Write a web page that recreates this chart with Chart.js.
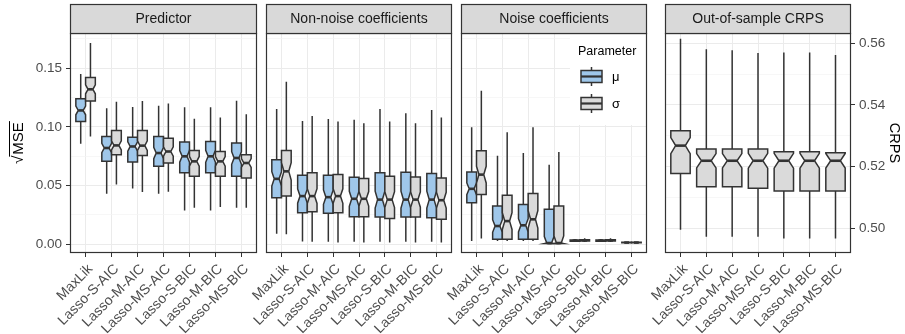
<!DOCTYPE html>
<html>
<head>
<meta charset="utf-8">
<title>Boxplots by method</title>
<script src="https://cdn.jsdelivr.net/npm/chart.js@4.4.1/dist/chart.umd.min.js"></script>
<style>
    html, body { margin: 0; padding: 0; background: #ffffff; }
    #figure { position: relative; width: 905px; height: 334px; overflow: hidden; }
    #figure canvas { position: absolute; top: 0; }
</style>
</head>
<body>
<div id="figure">
    <canvas id="panel-predictor" width="262" height="334" style="left:0px"></canvas>
    <canvas id="panel-nonnoise" width="230" height="334" style="left:226px"></canvas>
    <canvas id="panel-noise" width="230" height="334" style="left:421px"></canvas>
    <canvas id="panel-crps" width="280" height="334" style="left:625px"></canvas>
</div>
<script>
const methods = ["MaxLik", "Lasso-S-AIC", "Lasso-M-AIC", "Lasso-MS-AIC", "Lasso-S-BIC", "Lasso-M-BIC", "Lasso-MS-BIC"]

// one row per method: [lower whisker, q1, median, q3, upper whisker]
const predictorMu = [
    [0.0856, 0.1045, 0.114, 0.124, 0.145],
    [0.043, 0.0706, 0.082, 0.0918, 0.1158],
    [0.0475, 0.07, 0.0833, 0.0912, 0.117],
    [0.043, 0.0664, 0.0777, 0.0918, 0.118],
    [0.0288, 0.0608, 0.0749, 0.087, 0.1167],
    [0.0288, 0.0608, 0.0749, 0.0876, 0.1167],
    [0.031, 0.0579, 0.0735, 0.0862, 0.1223],
]
const predictorSigma = [
    [0.0918, 0.122, 0.132, 0.142, 0.1715],
    [0.0508, 0.0763, 0.0842, 0.0969, 0.1215],
    [0.0444, 0.0757, 0.084, 0.097, 0.122],
    [0.0446, 0.0692, 0.079, 0.0904, 0.12],
    [0.031, 0.0579, 0.0706, 0.0799, 0.107],
    [0.0316, 0.0579, 0.0706, 0.079, 0.108],
    [0.031, 0.0565, 0.0692, 0.0763, 0.1107],
]
const nonNoiseMu = [
    [0.009, 0.0396, 0.0557, 0.072, 0.1153],
    [0.0023, 0.0268, 0.041, 0.0587, 0.105],
    [0.002, 0.0263, 0.0401, 0.0587, 0.1068],
    [0.002, 0.0235, 0.0387, 0.057, 0.106],
    [0.002, 0.0231, 0.038, 0.0608, 0.1153],
    [0.002, 0.0231, 0.038, 0.0613, 0.1116],
    [0.002, 0.0226, 0.038, 0.0602, 0.1144],
]
const nonNoiseSigma = [
    [0.0085, 0.041, 0.0621, 0.0799, 0.1384],
    [0.002, 0.0277, 0.041, 0.0608, 0.1093],
    [0.0014, 0.0268, 0.041, 0.0593, 0.1045],
    [0.0014, 0.0235, 0.0387, 0.0559, 0.103],
    [0.0014, 0.022, 0.038, 0.0579, 0.1045],
    [0.0014, 0.0231, 0.038, 0.0573, 0.103],
    [0.0014, 0.0212, 0.0375, 0.0565, 0.108],
]
const noiseMu = [
    [0.0028, 0.0353, 0.0472, 0.0616, 0.0997],
    [0.0028, 0.0042, 0.0155, 0.0325, 0.0754],
    [0.0028, 0.0042, 0.0161, 0.0339, 0.0777],
    [0.0002, 0.0005, 0.001, 0.0297, 0.0678],
    [0.0018, 0.0026, 0.0031, 0.0036, 0.0045],
    [0.0018, 0.0026, 0.0031, 0.0036, 0.0045],
    [0.001, 0.0012, 0.0014, 0.0016, 0.0018],
]
const noiseSigma = [
    [0.0048, 0.0424, 0.0593, 0.0797, 0.1308],
    [0.0028, 0.0042, 0.0197, 0.0418, 0.0955],
    [0.0028, 0.0042, 0.0212, 0.0432, 0.0997],
    [0.0002, 0.0005, 0.001, 0.0325, 0.0786],
    [0.0018, 0.0027, 0.0032, 0.0038, 0.005],
    [0.0018, 0.0027, 0.0032, 0.0038, 0.005],
    [0.001, 0.0012, 0.0014, 0.0016, 0.0018],
]
const crps = [
    [0.4995, 0.5178, 0.5268, 0.5316, 0.5614],
    [0.4973, 0.5135, 0.5219, 0.5257, 0.558],
    [0.4973, 0.5135, 0.5219, 0.5257, 0.5577],
    [0.4973, 0.513, 0.5219, 0.5257, 0.5568],
    [0.4967, 0.5121, 0.5219, 0.5248, 0.557],
    [0.4967, 0.5121, 0.5219, 0.5248, 0.557],
    [0.4967, 0.5121, 0.5219, 0.5245, 0.5562],
]

const mseTicks = [0, 0.05, 0.1, 0.15]
const mseMinorTicks = [0.025, 0.075, 0.125, 0.175]
const crpsTicks = [0.5, 0.52, 0.54, 0.56]
const crpsMinorTicks = [0.51, 0.53, 0.55]

const fontFamily = "'Liberation Sans', Arial, Helvetica, sans-serif"
const ink = "#333333"
const muFill = "#9fc7ea"
const sigmaFill = "#dadada"
const notchFactor = 0.19 // 1.58 / sqrt(n), as a share of the IQR

Chart.defaults.font.family = fontFamily

function drawBox(ctx, xScale, yScale, center, halfWidth, stats, fill) {
    const [lo, q1, med, q3, hi] = stats
    const notch = notchFactor * (q3 - q1)
    const notchHi = Math.min(med + notch, q3)
    const notchLo = Math.max(med - notch, q1)
    const y = (v) => yScale.getPixelForValue(v)
    const x0 = xScale.getPixelForValue(center - halfWidth)
    const x1 = xScale.getPixelForValue(center + halfWidth)
    const xm = xScale.getPixelForValue(center)
    const inset = (x1 - x0) * 0.25

    ctx.strokeStyle = ink
    ctx.lineWidth = 1.5
    ctx.beginPath()
    ctx.moveTo(xm, y(hi))
    ctx.lineTo(xm, y(q3))
    ctx.moveTo(xm, y(q1))
    ctx.lineTo(xm, y(lo))
    ctx.stroke()

    ctx.beginPath()
    ctx.moveTo(x0, y(q3))
    ctx.lineTo(x1, y(q3))
    ctx.lineTo(x1, y(notchHi))
    ctx.lineTo(x1 - inset, y(med))
    ctx.lineTo(x1, y(notchLo))
    ctx.lineTo(x1, y(q1))
    ctx.lineTo(x0, y(q1))
    ctx.lineTo(x0, y(notchLo))
    ctx.lineTo(x0 + inset, y(med))
    ctx.lineTo(x0, y(notchHi))
    ctx.closePath()
    ctx.fillStyle = fill
    ctx.fill()
    ctx.stroke()

    ctx.lineWidth = 2.6
    ctx.beginPath()
    ctx.moveTo(x0 + inset, y(med))
    ctx.lineTo(x1 - inset, y(med))
    ctx.stroke()
}

function drawLegendKey(ctx, x0, x1, top, fill) {
    const xm = (x0 + x1) / 2
    ctx.strokeStyle = ink
    ctx.lineWidth = 1.5
    ctx.beginPath()
    ctx.moveTo(xm, top)
    ctx.lineTo(xm, top + 19)
    ctx.stroke()
    ctx.fillStyle = fill
    ctx.fillRect(x0, top + 3.5, x1 - x0, 12)
    ctx.strokeRect(x0, top + 3.5, x1 - x0, 12)
    ctx.lineWidth = 2.2
    ctx.beginPath()
    ctx.moveTo(x0, top + 9.5)
    ctx.lineTo(x1, top + 9.5)
    ctx.stroke()
}

const boxPanelPlugin = {
    id: "boxPanel",
    afterDraw(chart, args, opts) {
        const { ctx, chartArea } = chart
        const { left, right, top, bottom } = chartArea
        const xScale = chart.scales.x
        const yScale = chart.scales.y
        ctx.save()

        if (opts.legend) {
            ctx.fillStyle = "#ffffff"
            ctx.fillRect(right - 77, top + 1, 76, 91)
            ctx.fillStyle = "#000000"
            ctx.font = `12.5px ${fontFamily}`
            ctx.textAlign = "left"
            ctx.textBaseline = "middle"
            ctx.fillText("Parameter", right - 69, top + 19)
            drawLegendKey(ctx, right - 66, right - 45, top + 34, muFill)
            drawLegendKey(ctx, right - 66, right - 45, top + 61, sigmaFill)
            ctx.fillStyle = "#000000"
            ctx.font = `13px ${fontFamily}`
            ctx.fillText("μ", right - 35, top + 44)
            ctx.fillText("σ", right - 35, top + 71)
        }

        chart.data.datasets.forEach((dataset) => {
            dataset.stats.forEach((stats, i) => {
                drawBox(ctx, xScale, yScale, i + dataset.shift, dataset.halfWidth, stats, dataset.fill)
            })
        })

        ctx.strokeStyle = ink
        ctx.lineWidth = 1.2
        ctx.strokeRect(left + 0.5, top + 0.5, right - left - 1, bottom - top - 1)

        ctx.fillStyle = "#d9d9d9"
        ctx.fillRect(left + 0.5, 4.5, right - left - 1, top - 4)
        ctx.strokeRect(left + 0.5, 4.5, right - left - 1, top - 4)
        ctx.fillStyle = "#1a1a1a"
        ctx.font = `14px ${fontFamily}`
        ctx.textAlign = "center"
        ctx.textBaseline = "middle"
        ctx.fillText(opts.title, (left + right) / 2, 19)

        if (opts.yTitle) {
            // radical sign with a bar over MSE
            ctx.translate(17, (top + bottom) / 2)
            ctx.rotate(-Math.PI / 2)
            ctx.font = `15px ${fontFamily}`
            ctx.fillStyle = "#000000"
            ctx.textAlign = "left"
            ctx.textBaseline = "alphabetic"
            const rootWidth = ctx.measureText("√").width + 1
            const textWidth = ctx.measureText("MSE").width
            const start = -(rootWidth + textWidth) / 2
            ctx.fillText("√", start, 5.5)
            ctx.fillText("MSE", start + rootWidth, 5.5)
            ctx.strokeStyle = "#000000"
            ctx.lineWidth = 1
            ctx.beginPath()
            ctx.moveTo(start + rootWidth - 2, -7.5)
            ctx.lineTo(start + rootWidth + textWidth + 1, -7.5)
            ctx.stroke()
        }
        ctx.restore()
    },
}

function xAxis() {
    return {
        type: "linear",
        min: -0.6,
        max: methods.length - 0.4,
        afterBuildTicks(scale) {
            scale.ticks = methods.map((name, i) => ({ value: i }))
        },
        afterFit(scale) {
            scale.height = 81
            scale.paddingLeft = 0
            scale.paddingRight = 0
        },
        ticks: {
            autoSkip: false,
            minRotation: 45,
            maxRotation: 45,
            padding: 4,
            labelOffset: 5,
            color: "#4d4d4d",
            font: { size: 14 },
            callback: (value) => methods[value],
        },
        grid: { color: "#ebebeb", lineWidth: 1, tickColor: ink, tickLength: 4 },
        border: { display: false },
    }
}

function yAxis(major, minor, range, showLabels, position, width, title) {
    return {
        type: "linear",
        position: position,
        min: range[0],
        max: range[1],
        afterBuildTicks(scale) {
            scale.ticks = [...major, ...minor].sort((a, b) => a - b).map((v) => ({ value: v }))
        },
        afterFit(scale) {
            scale.width = width
            scale.paddingTop = 0
            scale.paddingBottom = 0
        },
        ticks: {
            display: showLabels,
            autoSkip: false,
            padding: 4,
            color: "#4d4d4d",
            font: { size: 13.5 },
            callback: (value) => (major.includes(value) ? value.toFixed(2) : ""),
        },
        grid: {
            drawTicks: showLabels,
            tickLength: 4,
            color: (ctx) => (major.includes(ctx.tick.value) ? "#ebebeb" : "#f3f3f3"),
            lineWidth: (ctx) => (major.includes(ctx.tick.value) ? 1 : 0.7),
            tickColor: (ctx) => (major.includes(ctx.tick.value) ? ink : "rgba(0,0,0,0)"),
        },
        border: { display: false },
        title: {
            display: Boolean(title),
            text: title || "",
            color: "#000000",
            font: { size: 14.5 },
            padding: { top: 2, bottom: 0 },
        },
    }
}

function pairDatasets(muStats, sigmaStats) {
    return [
        { label: "μ", stats: muStats, fill: muFill, shift: -0.1875, halfWidth: 0.1875, data: [] },
        { label: "σ", stats: sigmaStats, fill: sigmaFill, shift: 0.1875, halfWidth: 0.1875, data: [] },
    ]
}

function makePanel(id, settings) {
    return new Chart(document.getElementById(id), {
        type: "scatter",
        data: { datasets: settings.datasets },
        options: {
            responsive: false,
            animation: false,
            events: [],
            layout: { padding: settings.padding },
            plugins: {
                legend: { display: false },
                tooltip: { enabled: false },
                boxPanel: { title: settings.title, legend: settings.legend, yTitle: settings.yTitle },
            },
            scales: {
                x: xAxis(),
                y: settings.y,
            },
        },
        plugins: [boxPanelPlugin],
    })
}

const mseRange = [-0.0075, 0.18]
const crpsRange = [0.492, 0.5633]

makePanel("panel-predictor", {
    title: "Predictor",
    yTitle: true,
    padding: { top: 33, right: 5, left: 0, bottom: 0 },
    datasets: pairDatasets(predictorMu, predictorSigma),
    y: yAxis(mseTicks, mseMinorTicks, mseRange, true, "left", 70),
})

makePanel("panel-nonnoise", {
    title: "Non-noise coefficients",
    padding: { top: 33, right: 4, left: 0, bottom: 0 },
    datasets: pairDatasets(nonNoiseMu, nonNoiseSigma),
    y: yAxis(mseTicks, mseMinorTicks, mseRange, false, "left", 40),
})

makePanel("panel-noise", {
    title: "Noise coefficients",
    legend: true,
    padding: { top: 33, right: 4, left: 0, bottom: 0 },
    datasets: pairDatasets(noiseMu, noiseSigma),
    y: yAxis(mseTicks, mseMinorTicks, mseRange, false, "left", 40),
})

makePanel("panel-crps", {
    title: "Out-of-sample CRPS",
    padding: { top: 33, right: 0, left: 40, bottom: 0 },
    datasets: [{ label: "CRPS", stats: crps, fill: sigmaFill, shift: 0, halfWidth: 0.375, data: [] }],
    y: yAxis(crpsTicks, crpsMinorTicks, crpsRange, true, "right", 54, "CRPS"),
})
</script>
</body>
</html>
